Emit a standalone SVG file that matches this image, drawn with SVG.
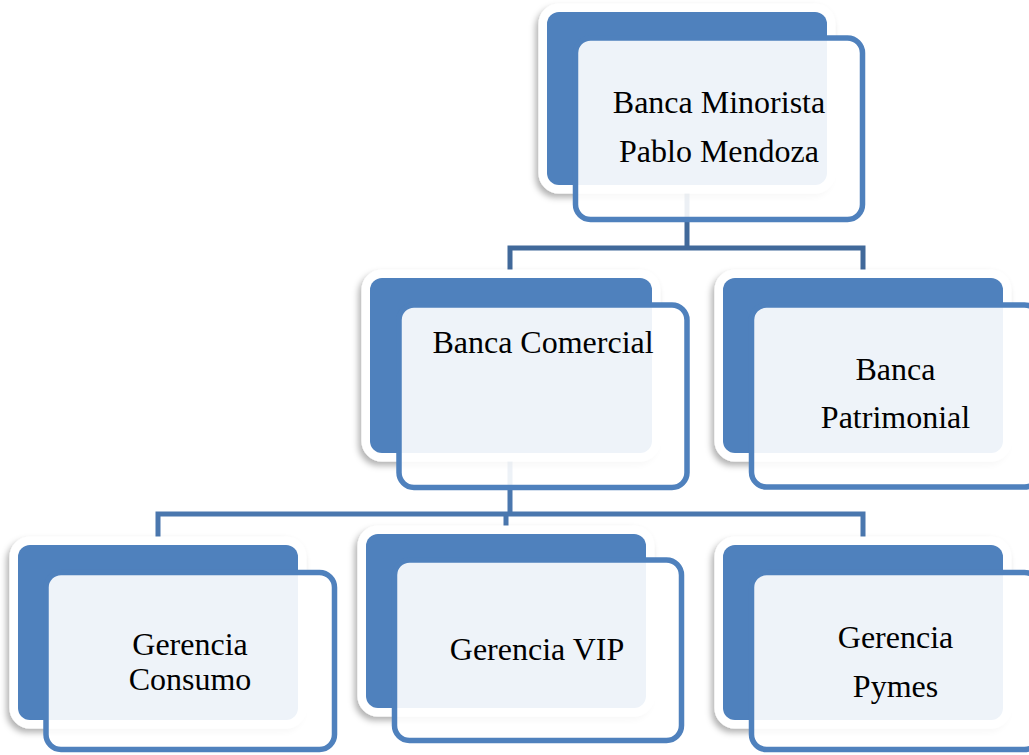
<svg xmlns="http://www.w3.org/2000/svg" width="1029" height="755" viewBox="0 0 1029 755">
<defs>
<filter id="sh" x="-10%" y="-10%" width="120%" height="125%">
<feDropShadow dx="-3" dy="4" stdDeviation="3" flood-color="#000" flood-opacity="0.3"/>
</filter>
<style>
.back{fill:#4f81bd;stroke:#fff;stroke-width:17;paint-order:stroke;filter:url(#sh)}
.front{fill:#fff;fill-opacity:0.9;stroke:#4f81bd;stroke-width:5.5}
.t{font-family:"Liberation Serif","Times New Roman",serif;font-size:32px;fill:#000;text-anchor:middle}
.c1{fill:none;stroke:#41699a;stroke-width:5}
.c2{fill:none;stroke:#4a77ae;stroke-width:5}
</style>
</defs>
<rect width="1029" height="755" fill="#fff"/>
<g id="connectors">
<path class="c1" d="M687,188 V248 M510,274 V248 H863 V274"/>
<path class="c2" d="M510,460 V514 M158,540 V514 H863 V540 M506,514 V530"/>
</g>
<g id="node-banca-minorista">
<rect class="back" x="547" y="12" width="280" height="173" rx="12"/>
<rect class="front" x="575.5" y="38" width="287" height="181.5" rx="15"/>
<text class="t" x="719" y="113">Banca Minorista</text>
<text class="t" x="719" y="162">Pablo Mendoza</text>
</g>
<g id="node-banca-comercial">
<rect class="back" x="370" y="278" width="282" height="175" rx="12"/>
<rect class="front" x="399" y="305" width="288" height="182.5" rx="15"/>
<text class="t" x="543" y="353">Banca Comercial</text>
</g>
<g id="node-banca-patrimonial">
<rect class="back" x="723" y="278" width="280" height="175" rx="12"/>
<rect class="front" x="751.5" y="305" width="288" height="182" rx="15"/>
<text class="t" x="895.5" y="380">Banca</text>
<text class="t" x="895.5" y="428">Patrimonial</text>
</g>
<g id="node-gerencia-consumo">
<rect class="back" x="18" y="545" width="280" height="175" rx="12"/>
<rect class="front" x="46" y="572.5" width="288.5" height="177" rx="15"/>
<text class="t" x="190" y="655">Gerencia</text>
<text class="t" x="190" y="690">Consumo</text>
</g>
<g id="node-gerencia-vip">
<rect class="back" x="366" y="534" width="280" height="174" rx="12"/>
<rect class="front" x="394.5" y="560" width="287" height="180.5" rx="15"/>
<text class="t" x="537" y="660">Gerencia VIP</text>
</g>
<g id="node-gerencia-pymes">
<rect class="back" x="723" y="545" width="280" height="175" rx="12"/>
<rect class="front" x="751.5" y="572.5" width="288" height="177" rx="15"/>
<text class="t" x="895.5" y="648">Gerencia</text>
<text class="t" x="895.5" y="697">Pymes</text>
</g>
</svg>
